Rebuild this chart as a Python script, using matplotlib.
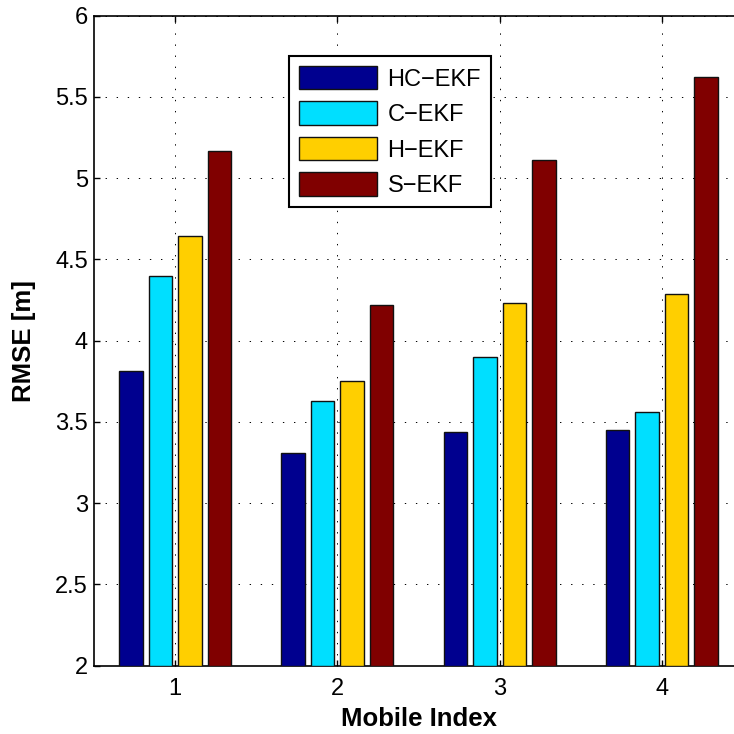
import matplotlib
matplotlib.use("Agg")
import matplotlib.pyplot as plt
import numpy as np
from matplotlib.ticker import FormatStrFormatter

# ---- data ----
mobiles = [1, 2, 3, 4]
series_names = ["HC\u2212EKF", "C\u2212EKF", "H\u2212EKF", "S\u2212EKF"]
hc_ekf = [3.815, 3.307, 3.44, 3.45]
c_ekf = [4.40, 3.63, 3.90, 3.56]
h_ekf = [4.644, 3.75, 4.23, 4.29]
s_ekf = [5.17, 4.22, 5.11, 5.62]
yticks = [2, 2.5, 3, 3.5, 4, 4.5, 5, 5.5, 6]

colors = ["#00008F", "#00DFFF", "#FFCF00", "#800000"]

plt.rcParams['font.family'] = ['Liberation Sans', 'DejaVu Sans']

fig = plt.figure(figsize=(7.34, 7.34), dpi=100)
ax = fig.add_axes([0.1281, 0.0930, 0.8842, 0.8856])

x = np.array(mobiles, dtype=float)
step = 0.182
width = 0.145
offsets = [-1.5 * step, -0.5 * step, 0.5 * step, 1.5 * step]
for vals, name, col, off in zip([hc_ekf, c_ekf, h_ekf, s_ekf], series_names, colors, offsets):
    v = np.array(vals)
    ax.bar(x + off, v - 2, bottom=2, width=width, color=col, edgecolor='#111111',
           linewidth=1.0, label=name, zorder=3)

ax.set_xlim(0.5, 4.5)
ax.set_ylim(2, 6)
ax.set_xticks(mobiles)
ax.set_yticks(yticks)
ax.yaxis.set_major_formatter(FormatStrFormatter('%g'))

ax.grid(True, color='black', linestyle=(0, (1.4, 10)), linewidth=0.7, zorder=0)
ax.set_axisbelow(True)

ax.tick_params(direction='in', length=4.5, width=1.0, top=True, right=True,
               labelsize=17, colors='black')
ax.tick_params(axis='x', pad=9)
ax.tick_params(axis='y', pad=4.3)
for s in ax.spines.values():
    s.set_linewidth(1.2)
    s.set_color('black')

ax.set_xlabel("Mobile Index", fontsize=18.5, fontweight='bold')
ax.set_ylabel("RMSE [m]", fontsize=18.5, fontweight='bold')
ax.xaxis.set_label_coords(0.5, -0.0635)
ax.yaxis.set_label_coords(-0.089, 0.5)

leg = ax.legend(loc='upper left', bbox_to_anchor=(0.3005, 0.938), borderaxespad=0,
                fontsize=17, handlelength=3.3, handleheight=1.14, labelspacing=0.46,
                handletextpad=0.45, borderpad=0.42, fancybox=False, framealpha=1,
                edgecolor='black')
leg.get_frame().set_linewidth(1.5)

fig.savefig("out.png", dpi=100)
